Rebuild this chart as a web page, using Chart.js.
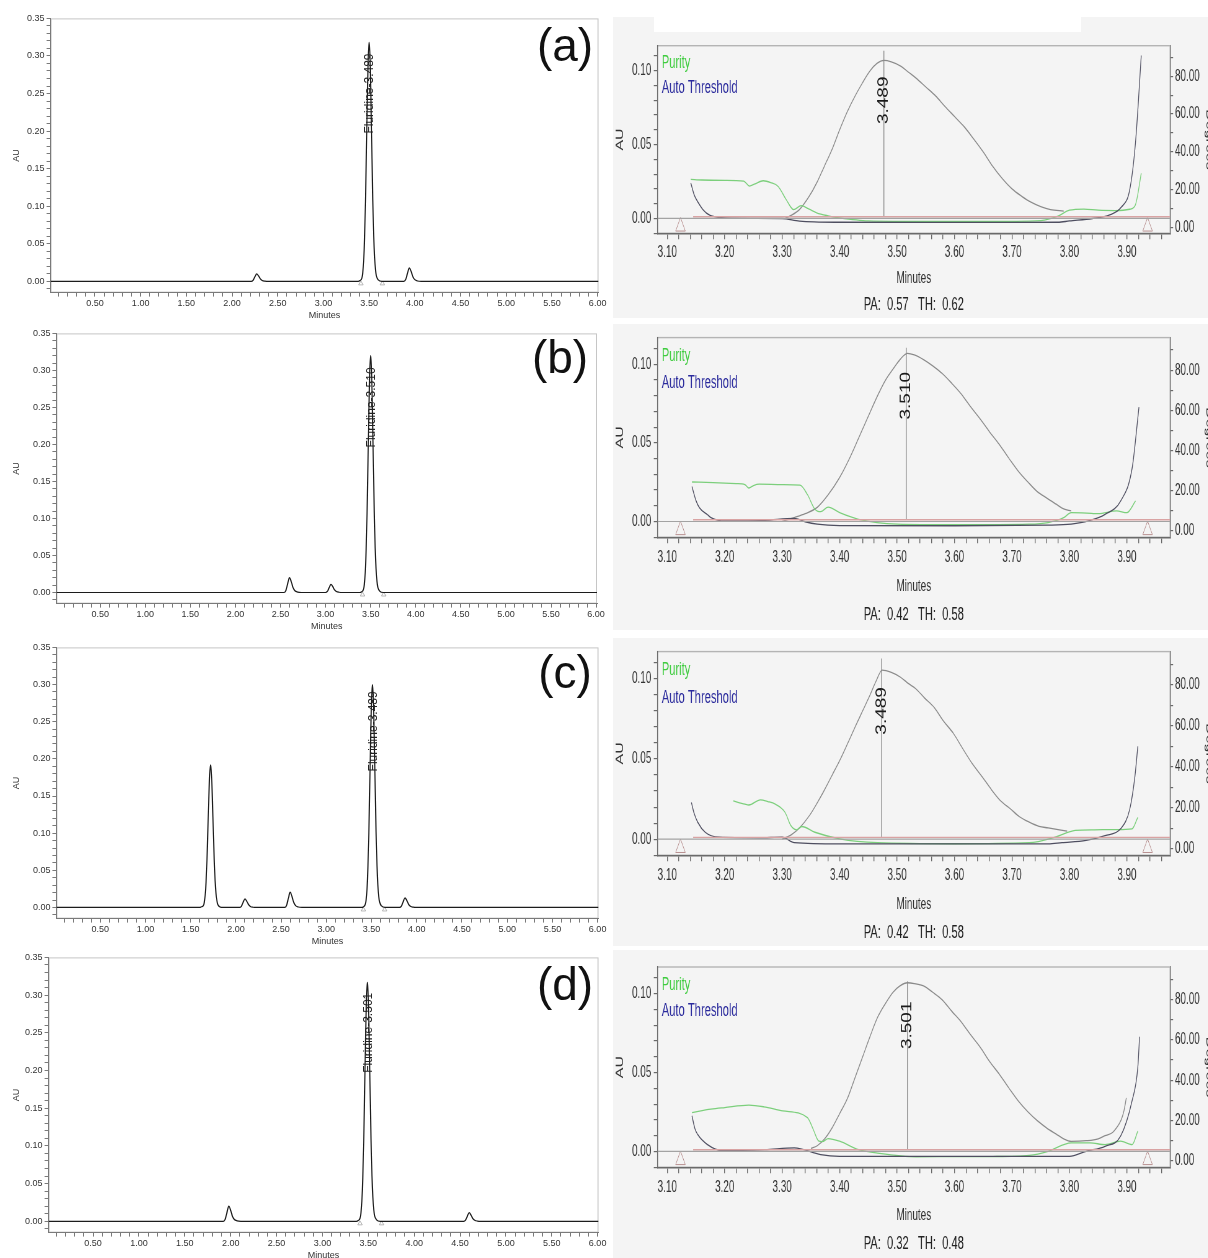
<!DOCTYPE html>
<html lang="en">
<head>
<meta charset="utf-8">
<title>HPLC chromatograms and peak purity plots</title>
<script src="https://cdn.jsdelivr.net/npm/chart.js@4.4.1/dist/chart.umd.min.js"></script>
<style>
  html, body { margin: 0; padding: 0; overflow: hidden; background: #fff; }
  body { position: relative; width: 1208px; height: 1258px; font-family: 'Liberation Sans', Arial, sans-serif; }
  .panel { position: absolute; }
  .squeeze { transform: scaleX(0.62); transform-origin: 0 0; }
  .shade { position: absolute; left: 613px; width: 595px; background: #f4f4f4; }
  .strip { position: absolute; background: #fff; }
  .letter { position: absolute; width: 90px; text-align: center; font-size: 46px; line-height: 46px; color: #111; }
</style>
</head>
<body>
<script>
// chromatograms, [minutes, AU]
const chromA = [[0.015,0],[2.21,0],[2.23,0.0013],[2.25,0.006],[2.27,0.010],[2.29,0.0072],[2.31,0.0032],[2.33,0.0012],[2.36,0.0003],[2.40,0],
  [3.38,0],[3.40,0.001],[3.42,0.004],[3.43,0.011],[3.44,0.027],[3.45,0.057],[3.46,0.106],[3.47,0.172],[3.48,0.242],[3.49,0.297],[3.50,0.318],
  [3.51,0.297],[3.52,0.242],[3.53,0.172],[3.54,0.108],[3.55,0.060],[3.56,0.032],[3.57,0.015],[3.58,0.007],[3.60,0.002],[3.64,0],
  [3.88,0],[3.90,0.0023],[3.92,0.0108],[3.94,0.018],[3.96,0.013],[3.98,0.0058],[4.00,0.0022],[4.03,0.0005],[4.07,0],[6.01,0]];
const chromB = [[0.015,0],[2.54,0],[2.56,0.0026],[2.58,0.012],[2.60,0.020],[2.62,0.0144],[2.64,0.0064],[2.66,0.0024],[2.69,0.0006],[2.73,0],
  [3.00,0],[3.02,0.0014],[3.04,0.0066],[3.06,0.011],[3.08,0.0079],[3.10,0.0035],[3.12,0.0013],[3.15,0.0003],[3.19,0],
  [3.38,0],[3.40,0.001],[3.42,0.004],[3.43,0.011],[3.44,0.027],[3.45,0.058],[3.46,0.107],[3.47,0.173],[3.48,0.244],[3.49,0.299],[3.50,0.320],
  [3.51,0.299],[3.52,0.244],[3.53,0.173],[3.54,0.109],[3.55,0.060],[3.56,0.032],[3.57,0.015],[3.58,0.007],[3.60,0.002],[3.64,0],[6.01,0]];
const chromC = [[0.015,0],[1.60,0],[1.62,0.001],[1.64,0.0024],[1.65,0.0066],[1.66,0.016],[1.67,0.034],[1.68,0.064],[1.69,0.104],[1.70,0.146],[1.71,0.179],[1.72,0.192],
  [1.73,0.179],[1.74,0.146],[1.75,0.104],[1.76,0.065],[1.77,0.036],[1.78,0.019],[1.79,0.009],[1.80,0.004],[1.82,0.001],[1.86,0],
  [2.04,0],[2.06,0.0015],[2.08,0.007],[2.10,0.0116],[2.12,0.0084],[2.14,0.0037],[2.16,0.0014],[2.19,0.0003],[2.23,0],
  [2.54,0],[2.56,0.0027],[2.58,0.0123],[2.60,0.0205],[2.62,0.0148],[2.64,0.0066],[2.66,0.0025],[2.69,0.0006],[2.73,0],
  [3.39,0],[3.41,0.001],[3.43,0.004],[3.44,0.010],[3.45,0.025],[3.46,0.054],[3.47,0.100],[3.48,0.162],[3.49,0.228],[3.50,0.280],[3.51,0.300],
  [3.52,0.280],[3.53,0.228],[3.54,0.162],[3.55,0.102],[3.56,0.057],[3.57,0.030],[3.58,0.014],[3.59,0.007],[3.61,0.002],[3.65,0],
  [3.81,0],[3.83,0.0017],[3.85,0.0078],[3.87,0.013],[3.89,0.0094],[3.91,0.0042],[3.93,0.0016],[3.96,0.0004],[4.00,0],[6.01,0]];
const chromD = [[0.015,0],[1.92,0],[1.94,0.0026],[1.96,0.012],[1.98,0.020],[2.00,0.0144],[2.02,0.0064],[2.04,0.0024],[2.07,0.0006],[2.11,0],
  [3.37,0],[3.39,0.001],[3.41,0.004],[3.42,0.011],[3.43,0.027],[3.44,0.057],[3.45,0.106],[3.46,0.171],[3.47,0.241],[3.48,0.296],[3.49,0.317],
  [3.50,0.296],[3.51,0.241],[3.52,0.171],[3.53,0.108],[3.54,0.060],[3.55,0.032],[3.56,0.015],[3.57,0.007],[3.59,0.002],[3.63,0],
  [4.54,0],[4.56,0.0015],[4.58,0.0068],[4.60,0.0114],[4.62,0.0082],[4.64,0.0036],[4.66,0.0014],[4.69,0.0003],[4.73,0],[6.01,0]];
const chromApex = [3.50, 3.50, 3.51, 3.49];
const chromLabelAu = [0.25, 0.25, 0.237, 0.25];
const peakNames = ['Fluridine-3.489', 'Fluridine-3.510', 'Fluridine-3.489', 'Fluridine-3.501'];
const chromMarks = [3.41, 3.645];
const panelLetters = ['(a)', '(b)', '(c)', '(d)'];

// purity plots: peak in AU, purity and threshold angles in degrees
const peakA = [[3.305,0],[3.313,0.0016],[3.33,0.006],[3.347,0.015],[3.36,0.024],[3.373,0.035],[3.387,0.047],[3.40,0.060],[3.413,0.072],[3.427,0.083],
  [3.44,0.092],[3.453,0.100],[3.465,0.105],[3.477,0.107],[3.49,0.106],[3.507,0.103],[3.52,0.099],[3.533,0.095],[3.55,0.089],[3.567,0.083],
  [3.583,0.076],[3.60,0.069],[3.617,0.062],[3.633,0.054],[3.65,0.045],[3.667,0.035],[3.683,0.027],[3.70,0.020],[3.717,0.015],[3.733,0.011],
  [3.75,0.008],[3.767,0.006],[3.79,0.005]];
const purityA = [[3.141,25.3],[3.16,25.0],[3.20,24.8],[3.233,24.4],[3.243,21.8],[3.253,23.0],[3.267,24.6],[3.28,23.6],[3.293,21.6],[3.307,14.6],
  [3.32,9.3],[3.333,11.4],[3.347,9.5],[3.36,7.6],[3.38,6.0],[3.40,4.9],[3.45,3.3],[3.55,3.0],[3.65,3.0],[3.75,3.5],[3.78,5.8],[3.80,9.0],
  [3.825,9.6],[3.85,9.0],[3.88,8.8],[3.905,9.5],[3.915,12],[3.925,28.6]];
const threshA = [[3.141,23.4],[3.147,17],[3.153,13.5],[3.163,9],[3.173,6.5],[3.19,5.2],[3.20,4.9],[3.25,4.7],[3.30,4.6],[3.33,3.2],[3.40,2.6],
  [3.55,2.5],[3.70,2.5],[3.78,2.6],[3.80,3.3],[3.84,4.6],[3.87,6.5],[3.89,10.5],[3.905,20],[3.915,45],[3.925,91]];
const peakB = [[3.30,0],[3.321,0.0025],[3.34,0.005],[3.361,0.009],[3.38,0.017],[3.40,0.028],[3.417,0.040],[3.433,0.053],[3.45,0.067],[3.466,0.080],
  [3.48,0.090],[3.493,0.097],[3.505,0.103],[3.518,0.107],[3.53,0.106],[3.546,0.103],[3.562,0.099],[3.579,0.094],[3.595,0.088],[3.612,0.081],
  [3.628,0.073],[3.645,0.065],[3.661,0.057],[3.678,0.049],[3.695,0.040],[3.711,0.032],[3.728,0.025],[3.744,0.019],[3.76,0.015],[3.777,0.011],
  [3.79,0.008],[3.803,0.0067]];
const purityB = [[3.143,24.3],[3.18,24.0],[3.22,23.5],[3.235,23.0],[3.242,21.3],[3.25,22.5],[3.26,23.2],[3.30,23.0],[3.331,22.7],[3.344,18],
  [3.357,10.7],[3.367,9.5],[3.38,11.8],[3.40,9.0],[3.433,5.7],[3.50,3.3],[3.60,3.0],[3.73,3.3],[3.763,4.1],[3.79,6.5],[3.803,9.0],[3.83,8.8],
  [3.85,8.5],[3.882,9.9],[3.90,9.0],[3.915,14.8]];
const threshB = [[3.143,22],[3.15,15],[3.156,11.5],[3.17,8],[3.176,6.6],[3.20,4.9],[3.27,5.2],[3.321,6.2],[3.34,4.5],[3.361,3.3],[3.40,2.6],
  [3.60,2.5],[3.763,2.8],[3.803,3.3],[3.833,4.9],[3.862,8.2],[3.889,14.8],[3.909,31],[3.921,61.6]];
const peakC = [[3.30,0],[3.315,0.0025],[3.33,0.007],[3.348,0.015],[3.36,0.022],[3.374,0.031],[3.387,0.040],[3.40,0.049],[3.413,0.059],[3.427,0.070],
  [3.44,0.080],[3.453,0.090],[3.464,0.099],[3.474,0.1055],[3.49,0.104],[3.506,0.101],[3.52,0.097],[3.532,0.094],[3.548,0.088],[3.565,0.082],
  [3.58,0.074],[3.598,0.066],[3.615,0.056],[3.631,0.047],[3.648,0.039],[3.664,0.031],[3.68,0.024],[3.697,0.019],[3.713,0.014],[3.73,0.0106],
  [3.747,0.008],[3.763,0.007],[3.796,0.005]];
const purityC = [[3.215,23.3],[3.235,21.7],[3.242,21.3],[3.262,23.8],[3.275,23.0],[3.288,21.7],[3.305,17.7],[3.315,11.3],[3.325,9.2],[3.334,10.8],
  [3.357,8.0],[3.40,4.8],[3.466,2.9],[3.60,2.4],[3.73,2.9],[3.775,5.6],[3.81,8.9],[3.843,9.2],[3.882,9.3],[3.909,9.7],[3.919,15.3]];
const threshC = [[3.142,22.5],[3.147,17],[3.153,12.9],[3.166,8],[3.19,5.6],[3.26,5.3],[3.30,5.6],[3.321,2.9],[3.40,2.3],[3.60,2.3],[3.763,2.3],
  [3.787,2.9],[3.829,4.0],[3.862,6.4],[3.889,9.7],[3.905,19.3],[3.914,35.4],[3.919,50]];
const peakD = [[3.35,0.002],[3.361,0.0036],[3.374,0.008],[3.387,0.015],[3.40,0.024],[3.414,0.034],[3.427,0.047],[3.44,0.060],[3.453,0.073],[3.466,0.085],
  [3.48,0.094],[3.493,0.101],[3.505,0.105],[3.518,0.107],[3.53,0.1065],[3.546,0.105],[3.562,0.101],[3.579,0.096],[3.595,0.089],[3.612,0.082],
  [3.628,0.074],[3.645,0.066],[3.661,0.057],[3.678,0.049],[3.695,0.040],[3.711,0.032],[3.728,0.025],[3.744,0.0195],[3.76,0.015],[3.777,0.011],
  [3.79,0.008],[3.803,0.0064],[3.829,0.0068],[3.85,0.008],[3.862,0.010],[3.875,0.012],[3.882,0.015],[3.89,0.020],[3.895,0.026],[3.899,0.034]];
const purityD = [[3.143,23.9],[3.176,25.6],[3.20,26.4],[3.242,27.6],[3.268,26.8],[3.301,24.8],[3.344,21.4],[3.354,15.6],[3.364,9.7],[3.37,9.5],
  [3.38,11.0],[3.40,9.7],[3.433,5.5],[3.466,3.8],[3.533,2.0],[3.667,2.1],[3.73,2.7],[3.763,4.7],[3.803,8.9],[3.836,8.9],[3.862,8.0],
  [3.889,9.7],[3.909,8.0],[3.919,14.7]];
const threshD = [[3.143,22.3],[3.148,16],[3.153,13],[3.17,8],[3.196,5],[3.27,5.5],[3.321,6.4],[3.367,3.0],[3.40,2.2],[3.60,2.2],[3.80,2.2],
  [3.829,4.7],[3.862,7.2],[3.889,12.2],[3.909,29.8],[3.919,46.5],[3.922,61.6]];
const apexTimes = [3.477, 3.516, 3.473, 3.518];
const apexTopAu = [0.1136, 0.1105, 0.1127, 0.108];
const apexLabels = ['3.489', '3.510', '3.489', '3.501'];
const purityAngle = ['0.57', '0.42', '0.42', '0.32'];
const purityThreshold = ['0.62', '0.58', '0.58', '0.48'];
const boundMarks = [3.123, 3.936];
const noiseLineAu = 0.0011;
const noiseLineStart = 3.145;

const chroms = [chromA, chromB, chromC, chromD];
const peaks = [peakA, peakB, peakC, peakD];
const purities = [purityA, purityB, purityC, purityD];
const thresholds = [threshA, threshB, threshC, threshD];

// page layout (px)
const leftBoxes = [
  {top: 11.3, plotTop: 17.3, plotBottom: 293.3, plotLeft: 50.6, plotRight: 601},
  {top: 325.7, plotTop: 331.7, plotBottom: 603.3, plotLeft: 56.4, plotRight: 597},
  {top: 640, plotTop: 646, plotBottom: 918.3, plotLeft: 56.4, plotRight: 599},
  {top: 950, plotTop: 956, plotBottom: 1232.7, plotLeft: 48.6, plotRight: 599}
];
const rightBoxes = [
  {top: 17, plotTop: 45.7, plotBottom: 233, tickPad: 3.4, axisH: 58.6, paPad: 2.6, legendY: [17, 42]},
  {top: 324, plotTop: 335, plotBottom: 536.7, tickPad: 4.4, axisH: 62.6, paPad: 4.6, legendY: [18, 45]},
  {top: 638, plotTop: 650, plotBottom: 855, tickPad: 4.4, axisH: 62.6, paPad: 4.6, legendY: [18, 46]},
  {top: 950, plotTop: 967, plotBottom: 1166.7, tickPad: 4.4, axisH: 61.6, paPad: 4.6, legendY: [18, 44]}
];
const shadeBoxes = [[17, 318], [324, 630], [638, 946], [950, 1258]];
const letterCenters = [[565, 49], [560, 361], [565, 676], [565, 988]];

const FONT = "'Liberation Sans', Arial, sans-serif";
const RIGHT_W = 980;
const xRight = [3.083, 3.975];

Chart.defaults.font.family = FONT;
Chart.defaults.color = '#333';

const toPoints = arr => arr.map(([x, y]) => ({x, y}));
const onStep = (v, step) => Math.abs(v / step - Math.round(v / step)) < 1e-6;

function addDiv(cls, left, top, width, height) {
  const d = document.createElement('div');
  d.className = cls;
  d.style.left = left + 'px';
  d.style.top = top + 'px';
  if (width != null) d.style.width = width + 'px';
  if (height != null) d.style.height = height + 'px';
  document.body.appendChild(d);
  return d;
}

function addCanvas(left, top, width, height, squeeze) {
  const box = addDiv('panel' + (squeeze ? ' squeeze' : ''), left, top, width, height);
  const canvas = document.createElement('canvas');
  canvas.width = width;
  canvas.height = height;
  box.appendChild(canvas);
  return canvas;
}

function chromDecor(i) {
  return {
    id: 'chromDecor' + i,
    beforeDraw(chart) {
      const {ctx, chartArea: a} = chart;
      ctx.save();
      ctx.strokeStyle = '#c6c6c6';
      ctx.lineWidth = 1;
      ctx.strokeRect(a.left + 0.5, a.top + 0.5, a.width - 1, a.height - 1);
      ctx.restore();
    },
    afterDatasetsDraw(chart) {
      const {ctx, scales} = chart;
      const x = scales.x.getPixelForValue(chromApex[i]) + 1;
      const y = scales.y.getPixelForValue(chromLabelAu[i]);
      ctx.save();
      ctx.translate(x, y);
      ctx.rotate(-Math.PI / 2);
      ctx.font = '12px ' + FONT;
      ctx.fillStyle = '#222';
      ctx.textAlign = 'center';
      ctx.textBaseline = 'middle';
      ctx.fillText(peakNames[i], 0, 0);
      ctx.restore();
    }
  };
}

function makeChrom(i) {
  const b = leftBoxes[i];
  const height = Math.round(b.plotBottom - b.top + 30.4);
  const canvas = addCanvas(0, b.top, 608, height, false);
  const axisColor = '#7a7a7a';
  new Chart(canvas, {
    type: 'line',
    data: {
      datasets: [
        {data: toPoints(chroms[i]), borderColor: '#1c1c1c', borderWidth: 1.2, pointRadius: 0, cubicInterpolationMode: 'monotone'},
        {type: 'scatter', data: chromMarks.map(t => ({x: t, y: -0.003})), pointStyle: 'triangle', pointRadius: 2.6,
         borderColor: '#a8a8a8', borderWidth: 0.8, backgroundColor: 'rgba(0,0,0,0)'}
      ]
    },
    options: {
      responsive: false,
      animation: false,
      events: [],
      layout: {padding: {top: b.plotTop - b.top, right: 608 - b.plotRight, bottom: 1, left: 0}},
      plugins: {legend: {display: false}, tooltip: {enabled: false}},
      scales: {
        x: {
          type: 'linear', min: 0.015, max: 6.01,
          afterFit: s => { s.height = 29.4; },
          grid: {drawOnChartArea: false, tickLength: 4, color: axisColor},
          border: {color: axisColor},
          ticks: {stepSize: 0.1, autoSkip: false, includeBounds: false, maxRotation: 0, padding: 1.6,
                  font: {size: 9}, color: '#333', callback: v => onStep(v, 0.5) ? v.toFixed(2) : ''},
          title: {display: true, text: 'Minutes', font: {size: 9}, color: '#333', padding: {top: 0, bottom: 1}}
        },
        y: {
          min: -0.015, max: 0.35,
          afterFit: s => { s.width = b.plotLeft; },
          grid: {drawOnChartArea: false, tickLength: 4, color: axisColor},
          border: {color: axisColor},
          ticks: {stepSize: 0.01, autoSkip: false, includeBounds: false, padding: 2,
                  font: {size: 9}, color: '#333', callback: v => onStep(v, 0.05) ? v.toFixed(2) : ''},
          title: {display: true, text: 'AU', font: {size: 9}, color: '#333', padding: {top: 11.5, bottom: 0}}
        }
      }
    },
    plugins: [chromDecor(i)]
  });
}

function purityDecor(i, b) {
  return {
    id: 'purityDecor' + i,
    beforeDraw(chart) {
      const {ctx, chartArea: a} = chart;
      ctx.save();
      ctx.strokeStyle = '#b4b4b4';
      ctx.lineWidth = 1.4;
      ctx.strokeRect(a.left, a.top, a.width, a.height);
      ctx.restore();
    },
    afterDraw(chart) {
      const {ctx, chartArea: a, scales} = chart;
      ctx.save();
      ctx.font = '18px ' + FONT;
      ctx.textBaseline = 'middle';
      ctx.fillStyle = '#3fcc3f';
      ctx.fillText('Purity', a.left + 7, a.top + b.legendY[0]);
      ctx.fillStyle = '#2a2a9c';
      ctx.fillText('Auto Threshold', a.left + 7, a.top + b.legendY[1]);
      const x = scales.x.getPixelForValue(apexTimes[i]);
      const y = scales.y.getPixelForValue(0.080);
      ctx.translate(x, y);
      ctx.scale(1.25, 1);
      ctx.rotate(-Math.PI / 2);
      ctx.font = '19px ' + FONT;
      ctx.fillStyle = '#1a1a1a';
      ctx.textAlign = 'center';
      ctx.fillText(apexLabels[i], 0, 0);
      ctx.restore();
    }
  };
}

function makePurity(i) {
  const b = rightBoxes[i];
  const height = Math.round(b.plotBottom - b.top + b.axisH + b.paPad + 21.6 + 2);
  const canvas = addCanvas(610, b.top, RIGHT_W, height, true);
  const axisColor = '#6a6a6a';
  const plotLeft = 76.6, plotRight = 903.2;
  new Chart(canvas, {
    type: 'line',
    data: {
      datasets: [
        {data: toPoints([[xRight[0], 0], [xRight[1], 0]]), borderColor: '#a3a3a3', borderWidth: 1.2, pointRadius: 0, yAxisID: 'y'},
        {data: toPoints([[noiseLineStart, noiseLineAu], [xRight[1], noiseLineAu]]), borderColor: '#d9a3a3', borderWidth: 1.4, pointRadius: 0, yAxisID: 'y'},
        {data: toPoints(thresholds[i]), borderColor: '#4e4e60', borderWidth: 1.3, pointRadius: 0, yAxisID: 'y1', cubicInterpolationMode: 'monotone'},
        {data: toPoints(purities[i]), borderColor: '#7ccf7c', borderWidth: 1.3, pointRadius: 0, yAxisID: 'y1', cubicInterpolationMode: 'monotone'},
        {data: toPoints(peaks[i]), borderColor: '#8a8a8a', borderWidth: 1.3, pointRadius: 0, yAxisID: 'y', cubicInterpolationMode: 'monotone'},
        {data: toPoints([[apexTimes[i], noiseLineAu], [apexTimes[i], apexTopAu[i]]]), borderColor: '#8f8f8f', borderWidth: 1.4, pointRadius: 0, yAxisID: 'y'},
        {type: 'scatter', data: boundMarks.map(t => ({x: t, y: -0.0055})), pointStyle: 'triangle', pointRadius: 9,
         borderColor: '#b89090', borderWidth: 1, backgroundColor: 'rgba(0,0,0,0)', yAxisID: 'y'}
      ]
    },
    options: {
      responsive: false,
      animation: false,
      events: [],
      layout: {padding: {top: b.plotTop - b.top, right: 0, bottom: 2, left: 0}},
      plugins: {
        legend: {display: false},
        tooltip: {enabled: false},
        subtitle: {display: true, position: 'bottom', text: 'PA:  ' + purityAngle[i] + '   TH:  ' + purityThreshold[i],
                   font: {size: 18}, color: '#222', padding: {top: b.paPad, bottom: 0}}
      },
      scales: {
        x: {
          type: 'linear', min: xRight[0], max: xRight[1],
          afterFit: s => { s.height = b.axisH; },
          grid: {drawOnChartArea: false, tickLength: 6, color: axisColor, lineWidth: 1.4},
          border: {color: axisColor, width: 1.4},
          ticks: {stepSize: 0.02, autoSkip: false, includeBounds: false, maxRotation: 0, padding: b.tickPad,
                  font: {size: 16}, color: '#333', callback: v => onStep(v, 0.1) ? v.toFixed(2) : ''},
          title: {display: true, text: 'Minutes', font: {size: 16}, color: '#333', padding: {top: 0, bottom: 4}}
        },
        y: {
          position: 'left', min: -0.010, max: 0.117,
          afterFit: s => { s.width = plotLeft; },
          grid: {drawOnChartArea: false, tickLength: 6, color: axisColor, lineWidth: 1.2},
          border: {color: axisColor, width: 1.4},
          ticks: {stepSize: 0.01, autoSkip: false, includeBounds: false, padding: 4,
                  font: {size: 16}, color: '#333', callback: v => onStep(v, 0.05) ? v.toFixed(2) : ''},
          title: {display: true, text: 'AU', font: {size: 16}, color: '#333', padding: {top: 6.5, bottom: 0}}
        },
        y1: {
          position: 'right', min: -3.2, max: 96.2,
          afterFit: s => { s.width = RIGHT_W - plotRight; },
          grid: {drawOnChartArea: false, tickLength: 5, color: axisColor, lineWidth: 1.2},
          border: {color: axisColor, width: 1.4},
          ticks: {stepSize: 10, autoSkip: false, includeBounds: false, padding: 3,
                  font: {size: 16}, color: '#333', callback: v => onStep(v, 20) ? v.toFixed(2) : ''},
          title: {display: true, text: 'Degrees', font: {size: 16}, color: '#333', padding: {top: 4, bottom: 0}}
        }
      }
    },
    plugins: [purityDecor(i, b)]
  });
}

shadeBoxes.forEach(([top, bottom]) => addDiv('shade', 613, top, 595, bottom - top));
addDiv('strip', 654, 17, 427, 15);

for (let i = 0; i < 4; i++) {
  makeChrom(i);
  makePurity(i);
}

letterCenters.forEach(([cx, cy], i) => {
  const d = addDiv('letter', cx - 45, cy - 27);
  d.textContent = panelLetters[i];
});
</script>
</body>
</html>
